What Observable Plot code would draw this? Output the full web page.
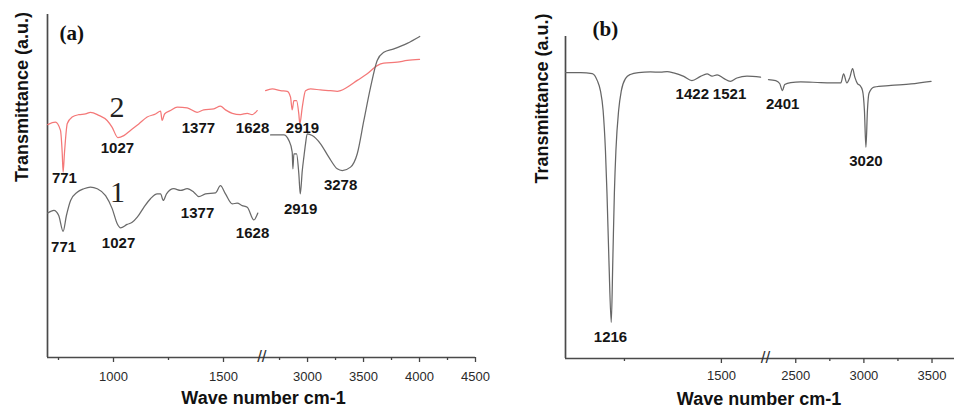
<!DOCTYPE html>
<html><head><meta charset="utf-8">
<script src="https://cdn.jsdelivr.net/npm/d3@7"></script>
<script src="https://cdn.jsdelivr.net/npm/@observablehq/plot@0.6"></script>
<style>
html,body{margin:0;padding:0;background:#fff;}
#wrap{display:flex;width:954px;height:414px;overflow:hidden;}
#wrap svg{flex:none;}
</style></head><body><div id="wrap"></div>
<script>
// ---------- Panel (a): [wavenumber cm-1, transmittance a.u.] ----------
const curve2Left = [[701,67.9],[736,68.6],[759,66.2],[767,59.5],[771,54.0],[777,59.5],[790,68.2],[812,70.1],[842,70.8],[873,71.0],[895,71.5],[933,70.6],[971,69.1],[994,67.1],[1020,64.1],[1047,64.7],[1077,66.2],[1115,68.1],[1153,70.1],[1191,71.0],[1214,71.8],[1221,69.1],[1232,71.0],[1259,72.0],[1290,73.0],[1335,72.8],[1380,71.5],[1410,72.2],[1456,72.5],[1486,73.3],[1509,72.2],[1540,71.2],[1577,70.8],[1608,71.2],[1630,70.8],[1653,72.0]];
const curve2Right = [[2625,77.8],[2685,78.3],[2759,77.8],[2819,77.6],[2848,75.9],[2863,72.2],[2878,74.9],[2902,74.9],[2922,71.0],[2931,68.1],[2953,73.0],[2982,77.8],[3027,78.3],[3116,78.0],[3205,77.8],[3265,77.6],[3295,77.8],[3354,78.8],[3444,80.8],[3533,82.7],[3622,85.1],[3681,85.8],[3801,86.1],[3890,86.6],[4000,86.9]];
const curve1Left = [[701,42.1],[729,42.9],[751,41.4],[771,36.8],[786,41.4],[805,45.8],[835,48.2],[865,49.2],[895,49.7],[926,49.2],[964,47.2],[994,43.4],[1017,39.0],[1032,37.8],[1062,38.8],[1085,39.4],[1108,40.9],[1138,43.8],[1168,46.3],[1199,47.7],[1214,47.7],[1226,45.8],[1241,47.7],[1274,49.2],[1305,48.7],[1335,49.2],[1365,48.2],[1388,46.9],[1418,47.7],[1464,48.0],[1486,50.1],[1509,47.7],[1540,44.8],[1562,45.0],[1585,44.3],[1608,43.8],[1638,40.1],[1656,42.1]];
const curve1Right = [[2670,64.9],[2788,64.9],[2833,63.3],[2863,59.9],[2869,55.0],[2878,59.4],[2902,59.4],[2922,53.6],[2935,47.7],[2953,54.5],[2967,58.4],[2982,62.3],[2997,65.2],[3042,64.7],[3116,62.3],[3190,58.4],[3265,55.0],[3310,54.5],[3384,55.5],[3444,59.4],[3503,69.1],[3563,78.8],[3622,86.6],[3681,89.0],[3771,90.0],[3890,91.6],[4002,93.6]];
const peakLabelsA = [
  {text:"771", w:777, t:52.2}, {text:"1027", w:1018, t:60.9}, {text:"1377", w:1386, t:66.8},
  {text:"1628", w:1632, t:66.8}, {text:"2919", w:2955, t:66.8},
  {text:"771", w:773, t:32.1}, {text:"1027", w:1023, t:33.2}, {text:"1377", w:1382, t:42.0},
  {text:"1628", w:1632, t:36.2}, {text:"2919", w:2938, t:43.1}, {text:"3278", w:3295, t:50.1}
];
const curveNames = [{text:"2", w:1016, t:73.0}, {text:"1", w:1018, t:48.1}];
const majorTicksA = [1000, 1500, 3000, 3500, 4000, 4500];
const minorTicksA = [750, 1250, 2750, 3250, 3750, 4250];
const domainA = [700, 1660, 2620, 4500];

// ---------- Panel (b) ----------
const curveBLeft = [[1098,88.8],[1137,88.8],[1167,88.5],[1180,86.3],[1188,83.2],[1195,77.0],[1201,64.6],[1205,51.2],[1210,30.4],[1216,11.2],[1220,30.4],[1224,51.2],[1228,64.6],[1235,77.0],[1242,83.2],[1253,87.0],[1265,88.2],[1286,88.8],[1317,89.0],[1343,88.9],[1360,89.1],[1377,88.7],[1403,87.6],[1424,86.3],[1446,87.6],[1463,88.4],[1476,87.7],[1489,88.1],[1506,87.0],[1523,86.1],[1540,87.1],[1566,87.7],[1601,87.4]];
const curveBRight = [[2299,86.6],[2353,86.3],[2382,85.4],[2402,83.2],[2419,85.1],[2463,85.7],[2537,85.9],[2684,85.7],[2831,85.6],[2851,88.4],[2875,85.6],[2897,87.3],[2917,90.0],[2934,87.3],[2954,85.3],[2971,84.8],[2990,83.2],[3004,77.0],[3015,65.6],[3026,77.0],[3037,82.3],[3074,84.3],[3199,84.8],[3346,85.3],[3493,86.1]];
const peakLabelsB = [
  {text:"1422", w:1425, t:82.0}, {text:"1521", w:1521, t:82.0}, {text:"2401", w:2404, t:78.9},
  {text:"3020", w:3015, t:61.2}, {text:"1216", w:1214, t:6.5}
];
const majorTicksB = [1500, 2500, 3000, 3500];
const minorTicksB = [1250, 2750, 3250];
const domainB = [1098, 1606, 2300, 3665];

const SANS = "Liberation Sans, Arial, sans-serif";
const SERIF = "Liberation Serif, Times New Roman, serif";
const AXIS = "#4a4a4a";

function axisMarks(major, minor, breakX, pad) {
  return [
    Plot.ruleY([0], {stroke: AXIS, strokeWidth: 1.7}),
    Plot.axisX(major, {anchor: "bottom", label: null, tickSize: 5, tickPadding: pad, tickFormat: d => String(d), fontSize: 13, fill: "#2a2a2a", stroke: "#444", strokeWidth: 1.3}),
    Plot.axisX(minor, {anchor: "bottom", label: null, tickSize: 3, tickFormat: () => "", stroke: "#444", strokeWidth: 1.3}),
    Plot.text(["//"], {x: breakX, y: 0, text: d => d, fontSize: 17, fill: "#333", fontFamily: SANS, dy: -1})
  ];
}

const lineOpts = (color) => ({x: d => d[0], y: d => d[1], stroke: color, strokeWidth: 1.25, curve: "monotone-x"});

const plotA = Plot.plot({
  width: 480, height: 414,
  marginLeft: 47, marginRight: 5, marginTop: 14, marginBottom: 57,
  style: {fontFamily: SANS, fontSize: "13px", background: "white", overflow: "visible"},
  x: {type: "linear", domain: domainA, range: [47, 258.2, 264.5, 475], axis: null, label: null},
  y: {domain: [0, 100], axis: null, label: null},
  marks: [
    Plot.ruleX([domainA[0]], {stroke: AXIS, strokeWidth: 1.7}),
    ...axisMarks(majorTicksA, minorTicksA, 2140, 9),
    Plot.line(curve2Left, lineOpts("#f47878")),
    Plot.line(curve2Right, lineOpts("#f47878")),
    Plot.line(curve1Left, lineOpts("#6a6a6a")),
    Plot.line(curve1Right, lineOpts("#6a6a6a")),
    Plot.text(peakLabelsA, {x: "w", y: "t", text: "text", fontSize: 15, fontWeight: "bold", fill: "#151515", fontFamily: SANS}),
    Plot.text(curveNames, {x: "w", y: "t", text: "text", fontSize: 30, fill: "#222", fontFamily: SERIF}),
    Plot.text(["(a)"], {frameAnchor: "top-left", text: d => d, dx: 12, dy: 11, fontSize: 21, fontWeight: "bold", fill: "#111", fontFamily: SERIF}),
    Plot.text(["Transmittance (a.u.)"], {frameAnchor: "left", text: d => d, rotate: -90, dx: -25, dy: -4, fontSize: 18, fontWeight: "bold", fill: "#111", fontFamily: SANS}),
    Plot.text(["Wave number cm-1"], {frameAnchor: "bottom", text: d => d, dx: 2, dy: 46, fontSize: 18, fontWeight: "bold", fill: "#111", fontFamily: SANS})
  ]
});

const plotB = Plot.plot({
  width: 474, height: 414,
  marginLeft: 85, marginRight: 0, marginTop: 36, marginBottom: 56,
  style: {fontFamily: SANS, fontSize: "13px", background: "transparent", overflow: "visible"},
  x: {type: "linear", domain: domainB, range: [85, 282, 288, 474], axis: null, label: null},
  y: {domain: [0, 100], axis: null, label: null},
  marks: [
    Plot.ruleX([domainB[0]], {stroke: AXIS, strokeWidth: 1.7}),
    ...axisMarks(majorTicksB, minorTicksB, 1953, 7),
    Plot.line(curveBLeft, lineOpts("#666")),
    Plot.line(curveBRight, lineOpts("#666")),
    Plot.text(peakLabelsB, {x: "w", y: "t", text: "text", fontSize: 15, fontWeight: "bold", fill: "#151515", fontFamily: SANS}),
    Plot.text(["(b)"], {frameAnchor: "top-left", text: d => d, dx: 27, dy: -15, fontSize: 21, fontWeight: "bold", fill: "#111", fontFamily: SERIF}),
    Plot.text(["Transmittance (a.u.)"], {frameAnchor: "left", text: d => d, rotate: -90, dx: -23, dy: -14, fontSize: 18, fontWeight: "bold", fill: "#111", fontFamily: SANS}),
    Plot.text(["Wave number cm-1"], {frameAnchor: "bottom", text: d => d, dx: -1, dy: 46, fontSize: 18, fontWeight: "bold", fill: "#111", fontFamily: SANS})
  ]
});

const wrap = document.getElementById("wrap");
wrap.appendChild(plotA);
wrap.appendChild(plotB);
</script></body></html>
